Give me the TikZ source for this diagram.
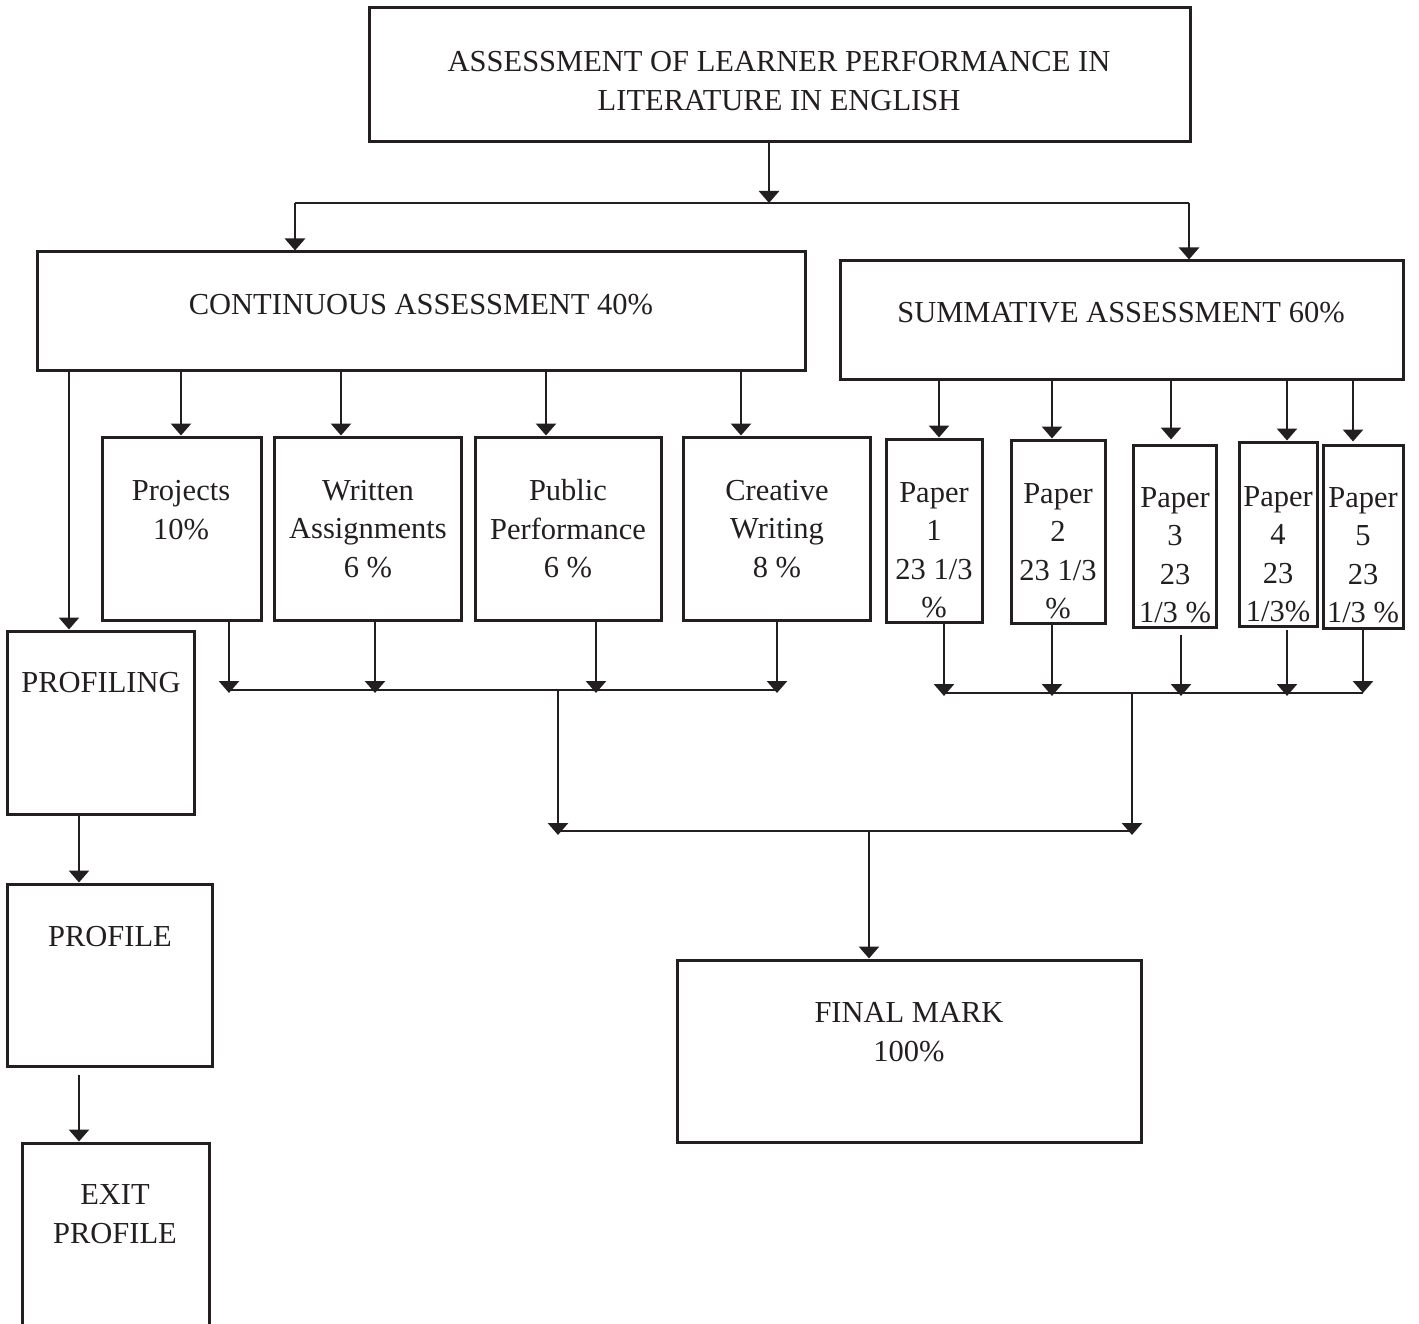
\documentclass[tikz,border=0pt]{standalone}
\usepackage{fontspec}
\setmainfont{Liberation Serif}
\usetikzlibrary{arrows.meta,fit}
\definecolor{ink}{RGB}{35,31,32}
\begin{document}
\begin{tikzpicture}[x=1pt,y=-1pt,
  box/.style={draw=ink, line width=3pt, inner sep=0pt, rectangle},
  lbl/.style={align=center, font=\fontsize{30.5}{38.5}\selectfont, inner sep=0pt, text=ink},
  arr/.style={draw=ink, line width=2.8pt, -{Triangle[width=20pt,length=12pt]}},
  ln/.style={draw=ink, line width=2.8pt}]
\clip (0,0) rectangle (1419,1324);
\fill[white] (0,0) rectangle (1419,1324);

% boxes
\node[box, fit={(369,8)(1190,142)}] (top) {};
\node[lbl] (toptext) at (779,81) {ASSESSMENT OF LEARNER PERFORMANCE IN\\LITERATURE IN ENGLISH};

\node[box, fit={(37,252)(805,370)}] (ca) {};
\node[lbl] (catext) at (421,305) {CONTINUOUS ASSESSMENT 40\%};
\node[box, fit={(840,261)(1403,379)}] (sa) {};
\node[lbl] (satext) at (1121,313) {SUMMATIVE ASSESSMENT 60\%};

\node[box, fit={(102,437)(261,620)}] (proj) {};
\node[lbl] (projtext) at (181,510) {Projects\\10\%};
\node[box, fit={(274,437)(461,620)}] (writ) {};
\node[lbl] (writtext) at (368,529) {Written\\Assignments\\6 \%};
\node[box, fit={(475,437)(661,620)}] (pub) {};
\node[lbl] (pubtext) at (568,529) {Public\\Performance\\6 \%};
\node[box, fit={(683,437)(870,620)}] (cre) {};
\node[lbl] (cretext) at (777,529) {Creative\\Writing\\8 \%};

\node[box, fit={(886,439)(982,622)}] (p1) {};
\node[lbl] (p1text) at (934,550) {Paper\\1\\23 1/3\\\%};
\node[box, fit={(1011,440)(1105,623)}] (p2) {};
\node[lbl] (p2text) at (1058,551) {Paper\\2\\23 1/3\\\%};
\node[box, fit={(1133,445)(1216,627)}] (p3) {};
\node[lbl] (p3text) at (1175,555) {Paper\\3\\23\\1/3 \%};
\node[box, fit={(1239,442)(1317,626)}] (p4) {};
\node[lbl] (p4text) at (1278,554) {Paper\\4\\23\\1/3\%};
\node[box, fit={(1323,445)(1403,628)}] (p5) {};
\node[lbl] (p5text) at (1363,555) {Paper\\5\\23\\1/3 \%};

\node[box, fit={(7,631)(194,814)}] (profiling) {};
\node[lbl] (profilingtext) at (101,683) {PROFILING};
\node[box, fit={(7,884)(212,1066)}] (profile) {};
\node[lbl] (profiletext) at (110,937) {PROFILE};
\node[box, fit={(22,1143)(209,1380)}] (exit) {};
\node[lbl] (exittext) at (115,1214) {EXIT\\PROFILE};

\node[box, fit={(677,960)(1141,1142)}] (final) {};
\node[lbl] (finaltext) at (909,1032) {FINAL MARK\\100\%};

% top split
\coordinate (j0) at (769,203);
\coordinate (hl) at (295,203);
\coordinate (hr) at (1189,203);
\draw[arr] (top.south -| j0) -- (j0);
\draw[ln] (hl) -- (hr);
\draw[arr] (hl) -- (ca.north -| hl);
\draw[arr] (hr) -- (sa.north -| hr);

% continuous assessment children
\coordinate (c0) at (69,370);
\coordinate (c1) at (181,370);
\coordinate (c2) at (341,370);
\coordinate (c3) at (546,370);
\coordinate (c4) at (741,370);
\draw[arr] (c0) -- (profiling.north -| c0);
\draw[arr] (c1) -- (proj.north -| c1);
\draw[arr] (c2) -- (writ.north -| c2);
\draw[arr] (c3) -- (pub.north -| c3);
\draw[arr] (c4) -- (cre.north -| c4);

% summative assessment children
\coordinate (s1) at (939,379);
\coordinate (s2) at (1052,379);
\coordinate (s3) at (1171,379);
\coordinate (s4) at (1287,379);
\coordinate (s5) at (1353,379);
\draw[arr] (s1) -- (p1.north -| s1);
\draw[arr] (s2) -- (p2.north -| s2);
\draw[arr, shorten >=4pt] (s3) -- (p3.north -| s3);
\draw[arr] (s4) -- (p4.north -| s4);
\draw[arr, shorten >=2pt] (s5) -- (p5.north -| s5);

% continuous bus
\coordinate (cb1) at (229,690);
\coordinate (cb2) at (375,690);
\coordinate (cb3) at (596,690);
\coordinate (cb4) at (777,690);
\coordinate (cbm) at (558,690);
\draw[ln] (cb1) -- (cb4);
\draw[arr] (proj.south -| cb1) -- ([yshift=-3pt]cb1);
\draw[arr] (writ.south -| cb2) -- ([yshift=-3pt]cb2);
\draw[arr] (pub.south -| cb3) -- ([yshift=-3pt]cb3);
\draw[arr] (cre.south -| cb4) -- ([yshift=-3pt]cb4);

% summative bus
\coordinate (sb1) at (944,693);
\coordinate (sb2) at (1052,693);
\coordinate (sb3) at (1181,693);
\coordinate (sb4) at (1287,693);
\coordinate (sb5) at (1363,693);
\coordinate (sbm) at (1132,693);
\draw[ln] (sb1) -- (sb5);
\draw[arr] (p1.south -| sb1) -- ([yshift=-3pt]sb1);
\draw[arr] (p2.south -| sb2) -- ([yshift=-3pt]sb2);
\draw[arr] ([yshift=-6pt]p3.south -| sb3) -- ([yshift=-3pt]sb3);
\draw[arr] ([yshift=-2pt]p4.south -| sb4) -- ([yshift=-3pt]sb4);
\draw[arr] (p5.south -| sb5) -- (sb5);

% final bus
\coordinate (fb1) at (558,831);
\coordinate (fb2) at (1132,831);
\coordinate (fbm) at (869,831);
\draw[ln, line width=2.2pt] (fb1) -- (fb2);
\draw[arr] (cbm) -- ([yshift=-4pt]fb1);
\draw[arr] (sbm) -- ([yshift=-4pt]fb2);
\draw[arr] (fbm) -- (final.north -| fbm);

% left column
\coordinate (l1) at (79,0);
\draw[arr] (profiling.south -| l1) -- (profile.north -| l1);
\draw[arr, shorten <=7pt] (profile.south -| l1) -- (exit.north -| l1);
\end{tikzpicture}
\end{document}
